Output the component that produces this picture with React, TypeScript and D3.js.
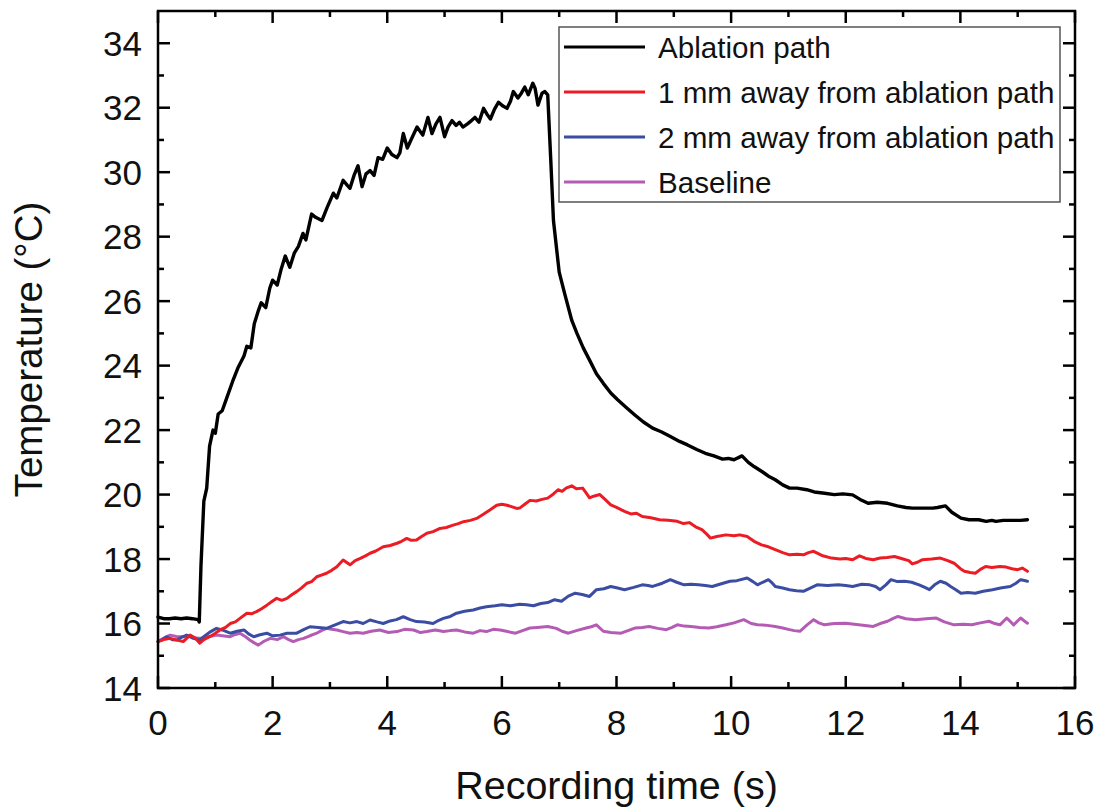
import React from "react";
import * as d3 from "d3";

// Recording time (s) and temperature (°C) for each probe position
const ablationTime = [0, 0.1, 0.2, 0.3, 0.4, 0.5, 0.6, 0.7, 0.72, 0.75, 0.8, 0.85, 0.9, 0.96, 1.0, 1.05, 1.12, 1.2, 1.3, 1.4, 1.5, 1.55, 1.62, 1.68, 1.75, 1.8, 1.88, 1.95, 2.0, 2.08, 2.15, 2.22, 2.3, 2.38, 2.45, 2.53, 2.58, 2.68, 2.75, 2.86, 2.95, 3.06, 3.12, 3.23, 3.3, 3.35, 3.42, 3.49, 3.56, 3.63, 3.7, 3.77, 3.84, 3.92, 4.0, 4.08, 4.17, 4.22, 4.28, 4.35, 4.44, 4.52, 4.62, 4.71, 4.78, 4.85, 4.92, 5.0, 5.06, 5.13, 5.2, 5.26, 5.32, 5.4, 5.47, 5.53, 5.6, 5.68, 5.74, 5.8, 5.87, 5.94, 6.02, 6.09, 6.15, 6.2, 6.28, 6.34, 6.4, 6.46, 6.54, 6.58, 6.63, 6.7, 6.75, 6.8, 6.85, 6.9, 7.0, 7.1, 7.22, 7.31, 7.42, 7.53, 7.65, 7.77, 7.9, 8.02, 8.17, 8.32, 8.47, 8.63, 8.78, 8.94, 9.1, 9.24, 9.4, 9.55, 9.7, 9.85, 9.95, 10.05, 10.19, 10.3, 10.4, 10.55, 10.67, 10.77, 10.9, 11.02, 11.15, 11.32, 11.45, 11.63, 11.8, 11.95, 12.12, 12.25, 12.39, 12.55, 12.73, 12.9, 13.05, 13.16, 13.35, 13.52, 13.6, 13.74, 13.85, 14.01, 14.15, 14.32, 14.45, 14.55, 14.62, 14.75, 14.9, 15.05, 15.17];
const ablationTemp = [16.2, 16.15, 16.15, 16.17, 16.15, 16.17, 16.15, 16.12, 16.05, 17.8, 19.8, 20.2, 21.5, 22.0, 21.9, 22.5, 22.6, 23.0, 23.5, 23.95, 24.3, 24.6, 24.55, 25.3, 25.7, 25.95, 25.8, 26.4, 26.65, 26.5, 27.0, 27.4, 27.05, 27.5, 27.7, 28.1, 27.9, 28.7, 28.6, 28.5, 28.9, 29.35, 29.2, 29.75, 29.6, 29.5, 29.9, 30.2, 29.55, 29.95, 30.05, 29.9, 30.45, 30.4, 30.75, 30.55, 30.45, 30.6, 31.2, 30.75, 31.1, 31.4, 31.15, 31.7, 31.2, 31.5, 31.7, 31.1, 31.4, 31.6, 31.45, 31.55, 31.4, 31.5, 31.6, 31.7, 31.55, 31.98, 31.8, 31.65, 31.95, 32.17, 32.05, 31.98, 32.2, 32.5, 32.3, 32.45, 32.64, 32.4, 32.76, 32.6, 32.08, 32.45, 32.5, 32.4, 30.5, 28.5, 26.9, 26.2, 25.4, 25.0, 24.55, 24.17, 23.75, 23.45, 23.15, 22.94, 22.7, 22.47, 22.25, 22.06, 21.95, 21.8, 21.65, 21.54, 21.4, 21.28, 21.2, 21.1, 21.12, 21.08, 21.2, 21.0, 20.87, 20.7, 20.55, 20.46, 20.3, 20.2, 20.2, 20.15, 20.08, 20.04, 20.0, 20.02, 19.99, 19.85, 19.73, 19.76, 19.73, 19.65, 19.6, 19.58, 19.58, 19.58, 19.6, 19.65, 19.45, 19.27, 19.22, 19.22, 19.17, 19.2, 19.17, 19.2, 19.2, 19.2, 19.22];

const oneMmTime = [0, 0.1, 0.21, 0.3, 0.44, 0.56, 0.65, 0.73, 0.8, 0.91, 1.0, 1.08, 1.18, 1.26, 1.35, 1.43, 1.55, 1.63, 1.72, 1.8, 1.9, 2.0, 2.07, 2.16, 2.25, 2.34, 2.42, 2.5, 2.6, 2.68, 2.77, 2.85, 2.94, 3.03, 3.12, 3.23, 3.35, 3.44, 3.53, 3.62, 3.7, 3.8, 3.93, 4.05, 4.17, 4.25, 4.34, 4.42, 4.51, 4.6, 4.69, 4.8, 4.92, 5.03, 5.15, 5.24, 5.33, 5.45, 5.56, 5.67, 5.79, 5.91, 6.0, 6.09, 6.18, 6.26, 6.31, 6.4, 6.49, 6.6, 6.7, 6.8, 6.9, 6.98, 7.05, 7.12, 7.22, 7.3, 7.41, 7.47, 7.53, 7.6, 7.71, 7.8, 7.9, 8.0, 8.14, 8.25, 8.35, 8.45, 8.6, 8.75, 8.9, 9.06, 9.17, 9.27, 9.38, 9.49, 9.57, 9.64, 9.75, 9.91, 10.05, 10.15, 10.28, 10.4, 10.53, 10.65, 10.77, 10.9, 11.02, 11.15, 11.26, 11.35, 11.44, 11.6, 11.75, 11.9, 12.0, 12.12, 12.24, 12.35, 12.48, 12.6, 12.72, 12.85, 13.0, 13.1, 13.16, 13.25, 13.34, 13.5, 13.65, 13.78, 13.89, 14.0, 14.07, 14.17, 14.26, 14.35, 14.44, 14.55, 14.69, 14.8, 14.9, 15.0, 15.08, 15.17];
const oneMmTemp = [15.44, 15.5, 15.54, 15.5, 15.44, 15.64, 15.55, 15.39, 15.5, 15.6, 15.7, 15.8, 15.88, 16.0, 16.05, 16.16, 16.32, 16.3, 16.37, 16.45, 16.57, 16.7, 16.78, 16.72, 16.78, 16.9, 16.99, 17.1, 17.25, 17.3, 17.45, 17.5, 17.56, 17.65, 17.76, 17.97, 17.82, 17.95, 18.02, 18.1, 18.18, 18.25, 18.38, 18.42, 18.49, 18.55, 18.64, 18.58, 18.59, 18.7, 18.8, 18.85, 18.95, 18.98, 19.05, 19.1, 19.16, 19.2, 19.26, 19.38, 19.52, 19.67, 19.7, 19.67, 19.62, 19.57, 19.58, 19.7, 19.82, 19.8, 19.85, 19.89, 20.02, 20.15, 20.1, 20.2, 20.27, 20.18, 20.2, 20.05, 19.9, 19.95, 20.0, 19.85, 19.68, 19.6, 19.48, 19.4, 19.42, 19.32, 19.28, 19.22, 19.2, 19.17, 19.1, 19.13, 19.0, 18.91, 18.78, 18.65, 18.7, 18.75, 18.72, 18.75, 18.7, 18.55, 18.44, 18.38, 18.29, 18.2, 18.13, 18.15, 18.13, 18.2, 18.24, 18.1, 18.03, 18.0, 18.02, 17.98, 18.1, 18.02, 17.98, 18.03, 18.05, 18.08, 18.0, 17.95, 17.85, 17.9, 17.98, 18.0, 18.03, 17.95, 17.87, 17.7, 17.62, 17.58, 17.56, 17.68, 17.77, 17.74, 17.77, 17.75, 17.7, 17.67, 17.72, 17.62];

const twoMmTime = [0, 0.08, 0.15, 0.25, 0.33, 0.42, 0.5, 0.6, 0.73, 0.82, 0.92, 1.02, 1.12, 1.26, 1.38, 1.5, 1.58, 1.67, 1.78, 1.9, 2.0, 2.13, 2.25, 2.42, 2.55, 2.65, 2.8, 2.94, 3.08, 3.23, 3.35, 3.47, 3.58, 3.7, 3.82, 3.93, 4.05, 4.16, 4.28, 4.4, 4.51, 4.65, 4.8, 4.9, 4.98, 5.1, 5.21, 5.35, 5.5, 5.62, 5.73, 5.88, 6.0, 6.15, 6.31, 6.43, 6.55, 6.68, 6.8, 6.92, 7.04, 7.16, 7.28, 7.4, 7.53, 7.65, 7.78, 7.9, 8.02, 8.14, 8.3, 8.45, 8.55, 8.63, 8.8, 8.94, 9.05, 9.18, 9.3, 9.43, 9.55, 9.67, 9.8, 9.98, 10.1, 10.28, 10.38, 10.46, 10.55, 10.65, 10.72, 10.77, 10.9, 11.02, 11.14, 11.26, 11.38, 11.5, 11.68, 11.87, 12.0, 12.12, 12.28, 12.42, 12.52, 12.6, 12.7, 12.79, 12.9, 13.03, 13.15, 13.28, 13.38, 13.46, 13.55, 13.65, 13.75, 13.83, 13.92, 14.01, 14.13, 14.26, 14.4, 14.56, 14.7, 14.87, 14.97, 15.05, 15.1, 15.17];
const twoMmTemp = [15.44, 15.5, 15.59, 15.5, 15.49, 15.58, 15.64, 15.55, 15.49, 15.62, 15.75, 15.85, 15.8, 15.7, 15.76, 15.8, 15.68, 15.59, 15.65, 15.7, 15.62, 15.64, 15.7, 15.7, 15.82, 15.9, 15.88, 15.85, 15.95, 16.06, 16.02, 16.06, 16.0, 16.11, 16.05, 16.0, 16.08, 16.12, 16.21, 16.12, 16.06, 16.05, 16.0, 16.1, 16.16, 16.22, 16.32, 16.38, 16.42, 16.48, 16.52, 16.55, 16.58, 16.55, 16.6, 16.58, 16.55, 16.62, 16.65, 16.74, 16.69, 16.85, 16.94, 16.9, 16.84, 17.05, 17.08, 17.15, 17.1, 17.05, 17.12, 17.2, 17.18, 17.15, 17.25, 17.36, 17.28, 17.2, 17.22, 17.2, 17.18, 17.15, 17.22, 17.31, 17.33, 17.41, 17.3, 17.2, 17.28, 17.36, 17.25, 17.15, 17.1, 17.05, 17.02, 17.0, 17.1, 17.2, 17.18, 17.2, 17.18, 17.15, 17.22, 17.2, 17.15, 17.05, 17.2, 17.36, 17.3, 17.31, 17.28, 17.2, 17.12, 17.05, 17.2, 17.31, 17.25, 17.15, 17.05, 16.94, 16.96, 16.94, 17.0, 17.05, 17.1, 17.15, 17.25, 17.36, 17.34, 17.31];

const baselineTime = [0, 0.1, 0.21, 0.32, 0.44, 0.55, 0.65, 0.73, 0.85, 1.02, 1.12, 1.26, 1.35, 1.43, 1.52, 1.6, 1.68, 1.75, 1.85, 1.96, 2.08, 2.19, 2.28, 2.36, 2.45, 2.54, 2.65, 2.77, 2.85, 2.94, 3.03, 3.12, 3.23, 3.35, 3.47, 3.58, 3.72, 3.87, 4.02, 4.17, 4.3, 4.46, 4.58, 4.69, 4.84, 4.98, 5.1, 5.21, 5.35, 5.5, 5.62, 5.73, 5.85, 5.97, 6.1, 6.24, 6.36, 6.49, 6.62, 6.8, 6.95, 7.05, 7.16, 7.3, 7.47, 7.56, 7.65, 7.77, 7.9, 8.08, 8.2, 8.32, 8.45, 8.57, 8.72, 8.87, 8.97, 9.06, 9.18, 9.3, 9.45, 9.61, 9.75, 9.91, 10.05, 10.22, 10.35, 10.46, 10.6, 10.77, 10.9, 11.02, 11.1, 11.2, 11.32, 11.44, 11.53, 11.63, 11.8, 12.0, 12.15, 12.3, 12.48, 12.6, 12.73, 12.82, 12.91, 13.05, 13.22, 13.4, 13.58, 13.72, 13.89, 14.05, 14.2, 14.35, 14.5, 14.6, 14.69, 14.81, 14.93, 15.05, 15.1, 15.17];
const baselineTemp = [15.44, 15.55, 15.64, 15.6, 15.59, 15.62, 15.55, 15.54, 15.58, 15.64, 15.62, 15.59, 15.66, 15.7, 15.6, 15.49, 15.4, 15.33, 15.45, 15.54, 15.5, 15.59, 15.5, 15.44, 15.5, 15.54, 15.62, 15.7, 15.78, 15.85, 15.82, 15.8, 15.75, 15.7, 15.72, 15.7, 15.76, 15.8, 15.72, 15.75, 15.82, 15.8, 15.72, 15.75, 15.8, 15.75, 15.78, 15.8, 15.74, 15.7, 15.78, 15.75, 15.82, 15.8, 15.75, 15.7, 15.78, 15.86, 15.88, 15.91, 15.85, 15.76, 15.7, 15.78, 15.86, 15.9, 15.96, 15.76, 15.72, 15.7, 15.78, 15.86, 15.88, 15.91, 15.85, 15.81, 15.88, 15.96, 15.92, 15.91, 15.88, 15.86, 15.9, 15.96, 16.02, 16.12, 16.0, 15.96, 15.95, 15.91, 15.86, 15.81, 15.78, 15.76, 15.95, 16.12, 16.02, 15.96, 16.0, 16.01, 15.98, 15.95, 15.91, 16.0, 16.07, 16.15, 16.22, 16.15, 16.12, 16.15, 16.17, 16.05, 15.96, 15.98, 15.96, 16.02, 16.07, 16.0, 15.96, 16.17, 15.96, 16.17, 16.1, 16.01];

const seriesNames = [
  "Ablation path",
  "1 mm away from ablation path",
  "2 mm away from ablation path",
  "Baseline",
];
const seriesColors = ["#000000", "#ec1c24", "#3b4da2", "#b45cb4"];
const seriesWidths = [3.4, 3, 3, 3];

const xTickValues = [0, 2, 4, 6, 8, 10, 12, 14, 16];
const yTickValues = [14, 16, 18, 20, 22, 24, 26, 28, 30, 32, 34];

const FONT = "'Liberation Sans', Arial, Helvetica, sans-serif";

export default function App() {
  const width = 1100;
  const height = 809;
  const left = 158;
  const right = 1075;
  const top = 11;
  const bottom = 688;

  const x = d3.scaleLinear().domain([0, 16]).range([left, right]);
  const y = d3.scaleLinear().domain([14, 35]).range([bottom, top]);

  const series = [
    { time: ablationTime, temp: ablationTemp },
    { time: oneMmTime, temp: oneMmTemp },
    { time: twoMmTime, temp: twoMmTemp },
    { time: baselineTime, temp: baselineTemp },
  ];

  const line = d3
    .line<[number, number]>()
    .x((d) => x(d[0]))
    .y((d) => y(d[1]))
    .curve(d3.curveLinear);

  const xMinor = d3.range(1, 16, 2);
  const yMinor = d3.range(15, 35, 2);

  const majorLen = 12;
  const minorLen = 6;

  // legend layout
  const legX = 559;
  const legY = 27;
  const legW = 501;
  const legH = 175;
  const rowY = [47, 92, 137, 182];

  // draw back-to-front so the black trace sits on top
  const drawOrder = [3, 2, 1, 0];

  return (
    <svg
      width={width}
      height={height}
      style={{ position: "absolute", left: 0, top: 0, background: "#fff" }}
      fontFamily={FONT}
    >
      <rect x={0} y={0} width={width} height={height} fill="#fff" />

      {drawOrder.map((i) => (
        <path
          key={seriesNames[i]}
          d={line(series[i].time.map((t, k) => [t, series[i].temp[k]] as [number, number])) || ""}
          fill="none"
          stroke={seriesColors[i]}
          strokeWidth={seriesWidths[i]}
          strokeLinejoin="round"
          strokeLinecap="round"
        />
      ))}

      {/* frame */}
      <rect
        x={left}
        y={top}
        width={right - left}
        height={bottom - top}
        fill="none"
        stroke="#000"
        strokeWidth={2.5}
      />

      {/* x ticks, bottom and top, pointing inward */}
      {xTickValues.map((v) => (
        <g key={"xt" + v}>
          <line x1={x(v)} x2={x(v)} y1={bottom} y2={bottom - majorLen} stroke="#000" strokeWidth={2.5} />
          <line x1={x(v)} x2={x(v)} y1={top} y2={top + majorLen} stroke="#000" strokeWidth={2.5} />
          <text x={x(v)} y={735} textAnchor="middle" fontSize={35} fill="#111">
            {v}
          </text>
        </g>
      ))}
      {xMinor.map((v) => (
        <g key={"xm" + v}>
          <line x1={x(v)} x2={x(v)} y1={bottom} y2={bottom - minorLen} stroke="#000" strokeWidth={2.5} />
          <line x1={x(v)} x2={x(v)} y1={top} y2={top + minorLen} stroke="#000" strokeWidth={2.5} />
        </g>
      ))}

      {/* y ticks, left and right, pointing inward */}
      {yTickValues.map((v) => (
        <g key={"yt" + v}>
          <line x1={left} x2={left + majorLen} y1={y(v)} y2={y(v)} stroke="#000" strokeWidth={2.5} />
          <line x1={right} x2={right - majorLen} y1={y(v)} y2={y(v)} stroke="#000" strokeWidth={2.5} />
          <text x={142} y={y(v)} dy="0.36em" textAnchor="end" fontSize={35} fill="#111">
            {v}
          </text>
        </g>
      ))}
      {yMinor.map((v) => (
        <g key={"ym" + v}>
          <line x1={left} x2={left + minorLen} y1={y(v)} y2={y(v)} stroke="#000" strokeWidth={2.5} />
          <line x1={right} x2={right - minorLen} y1={y(v)} y2={y(v)} stroke="#000" strokeWidth={2.5} />
        </g>
      ))}

      {/* axis titles */}
      <text x={(left + right) / 2} y={799} textAnchor="middle" fontSize={39.5} fill="#111">
        Recording time (s)
      </text>
      <text
        transform={`translate(42, ${(top + bottom) / 2}) rotate(-90)`}
        textAnchor="middle"
        fontSize={38.5}
        fill="#111"
      >
        Temperature (°C)
      </text>

      {/* legend */}
      <rect x={legX} y={legY} width={legW} height={legH} fill="#fff" stroke="#555" strokeWidth={1.5} />
      {seriesNames.map((name, i) => (
        <g key={"leg" + i}>
          <line x1={564} x2={645} y1={rowY[i]} y2={rowY[i]} stroke={seriesColors[i]} strokeWidth={3} />
          <text x={658} y={rowY[i]} dy="0.36em" fontSize={29.6} fill="#111">
            {name}
          </text>
        </g>
      ))}
    </svg>
  );
}
